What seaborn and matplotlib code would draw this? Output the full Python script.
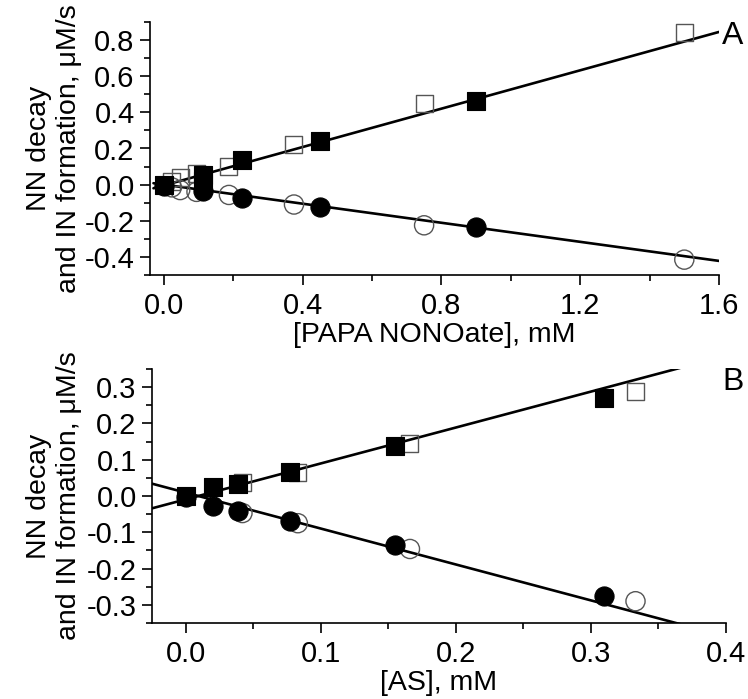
import matplotlib
matplotlib.use("Agg")
import matplotlib.pyplot as plt
import seaborn as sns
import pandas as pd
from matplotlib.ticker import MultipleLocator

# ---------- Panel A data ----------
a_open_sq_x = [0.023, 0.047, 0.094, 0.1875, 0.375, 0.75, 1.5]
a_open_sq_y = [0.02, 0.04, 0.06, 0.10, 0.22, 0.45, 0.84]
a_fill_sq_x = [0.0, 0.1125, 0.1125, 0.225, 0.45, 0.9]
a_fill_sq_y = [0.0, 0.055, 0.02, 0.135, 0.24, 0.465]
a_fill_ci_x = [0.0, 0.1125, 0.225, 0.45, 0.9]
a_fill_ci_y = [-0.005, -0.035, -0.072, -0.125, -0.237]
a_open_ci_x = [0.023, 0.047, 0.094, 0.1875, 0.375, 0.75, 1.5]
a_open_ci_y = [-0.015, -0.03, -0.04, -0.057, -0.11, -0.225, -0.415]
a_fit_x = [-0.03, 1.6]
a_fit_up_y = [-0.02, 0.845]
a_fit_dn_y = [0.008, -0.422]

# ---------- Panel B data ----------
b_fill_sq_x = [0.0, 0.02, 0.039, 0.077, 0.155, 0.31]
b_fill_sq_y = [0.0, 0.025, 0.032, 0.066, 0.137, 0.27]
b_open_sq_x = [0.042, 0.083, 0.166, 0.333]
b_open_sq_y = [0.038, 0.066, 0.145, 0.287]
b_fill_ci_x = [0.0, 0.02, 0.039, 0.077, 0.155, 0.31]
b_fill_ci_y = [-0.003, -0.028, -0.04, -0.07, -0.136, -0.275]
b_open_ci_x = [0.042, 0.083, 0.166, 0.333]
b_open_ci_y = [-0.047, -0.075, -0.146, -0.29]
b_fit_x = [-0.025, 0.37]
b_fit_up_y = [-0.034, 0.357]
b_fit_dn_y = [0.034, -0.357]

sns.set_style("ticks", {"axes.edgecolor": "black", "text.color": "black",
                        "axes.labelcolor": "black", "xtick.color": "black",
                        "ytick.color": "black"})
plt.rcParams['font.family'] = ['Liberation Sans', 'DejaVu Sans']

fig = plt.figure(figsize=(7.48, 6.99), dpi=100)
axA = fig.add_axes([150/748, 1-275/699, (719-150)/748, (275-22)/699])
axB = fig.add_axes([152/748, 1-623/699, (726-152)/748, (623-369)/699])

GRAY = "#555555"
def draw(ax, sets, fits, fitx):
    for fy in fits:
        sns.lineplot(x=fitx, y=fy, ax=ax, color="black", lw=1.9, zorder=2)
    for x, y, marker, filled, size in sets:
        if filled:
            sns.scatterplot(x=x, y=y, ax=ax, marker=marker, s=size, color="black",
                            edgecolor="black", linewidth=0.8, zorder=3)
        else:
            sns.scatterplot(x=x, y=y, ax=ax, marker=marker, s=size, facecolor="none",
                            edgecolor=GRAY, linewidth=1.0, zorder=3)

draw(axA, [
    (a_open_sq_x, a_open_sq_y, "s", False, 150),
    (a_open_ci_x, a_open_ci_y, "o", False, 190),
    (a_fill_sq_x, a_fill_sq_y, "s", True, 150),
    (a_fill_ci_x, a_fill_ci_y, "o", True, 190),
], [a_fit_up_y, a_fit_dn_y], a_fit_x)

draw(axB, [
    (b_open_sq_x, b_open_sq_y, "s", False, 150),
    (b_open_ci_x, b_open_ci_y, "o", False, 190),
    (b_fill_sq_x, b_fill_sq_y, "s", True, 150),
    (b_fill_ci_x, b_fill_ci_y, "o", True, 190),
], [b_fit_up_y, b_fit_dn_y], b_fit_x)

axA.set_xlim(-0.04, 1.6)
axA.set_ylim(-0.5, 0.9)
axA.xaxis.set_minor_locator(MultipleLocator(0.2))
axA.yaxis.set_minor_locator(MultipleLocator(0.1))
axA.set_xticks([0.0, 0.4, 0.8, 1.2, 1.6])
axA.set_xticklabels(["0.0", "0.4", "0.8", "1.2", "1.6"])
axA.set_yticks([-0.4, -0.2, 0.0, 0.2, 0.4, 0.6, 0.8])
axA.set_yticklabels(["-0.4", "-0.2", "0.0", "0.2", "0.4", "0.6", "0.8"])

axB.set_xlim(-0.025, 0.4)
axB.set_ylim(-0.35, 0.35)
axB.xaxis.set_minor_locator(MultipleLocator(0.05))
axB.yaxis.set_minor_locator(MultipleLocator(0.05))
axB.set_xticks([0.0, 0.1, 0.2, 0.3, 0.4])
axB.set_xticklabels(["0.0", "0.1", "0.2", "0.3", "0.4"])
axB.set_yticks([-0.3, -0.2, -0.1, 0.0, 0.1, 0.2, 0.3])
axB.set_yticklabels(["-0.3", "-0.2", "-0.1", "0.0", "0.1", "0.2", "0.3"])

ylabel = "NN decay\nand IN formation, \u03bcM/s"
for ax, xl, left, width, height in [
        (axA, "[PAPA NONOate], mM", 150, 569, 253),
        (axB, "[AS], mM", 152, 574, 254)]:
    sns.despine(ax=ax)
    ax.spines["left"].set_linewidth(1.2)
    ax.spines["bottom"].set_linewidth(1.2)
    ax.tick_params(which="major", direction="out", length=7, width=1.2,
                   labelsize=21, colors="black")
    ax.tick_params(axis="x", which="major", pad=5)
    ax.tick_params(axis="y", which="major", pad=4)
    ax.tick_params(which="minor", direction="out", length=4.5, width=1.2, colors="black")
    ax.set_xlabel(xl, fontsize=20.5, color="black")
    ax.xaxis.set_label_coords(0.5, -47 / height)
    ax.set_ylabel(ylabel, fontsize=20.5, linespacing=1.2, color="black")
    ax.yaxis.set_label_coords((82 - left) / width, 0.5)

fig.text(722/748, 1-36/699, "A", fontsize=23, ha="left", va="center", color="black")
fig.text(722/748, 1-382/699, "B", fontsize=23, ha="left", va="center", color="black")

fig.savefig("out.png", dpi=100)
